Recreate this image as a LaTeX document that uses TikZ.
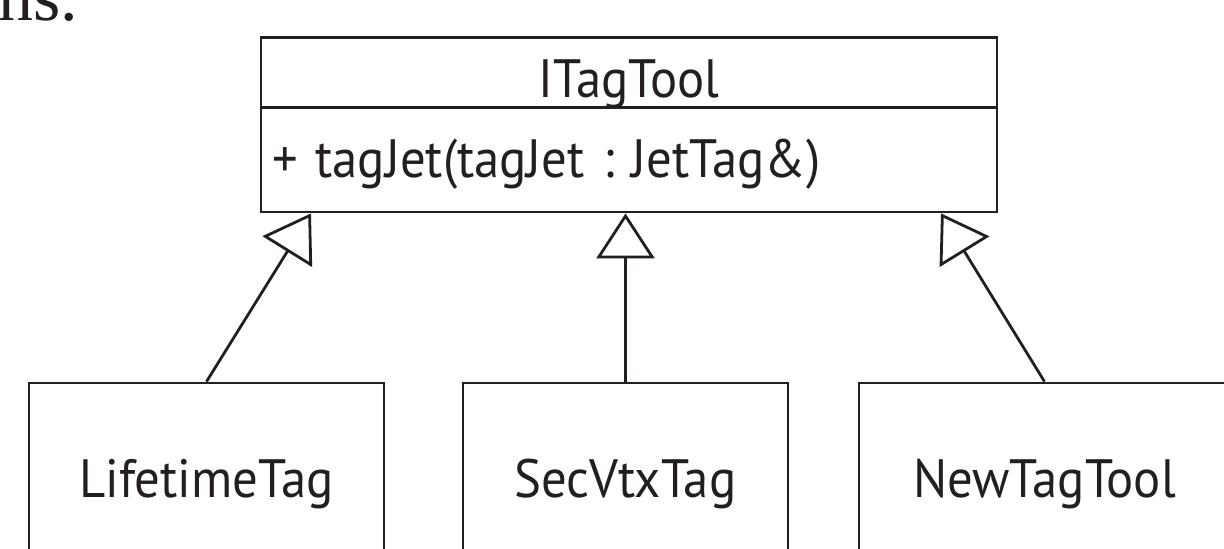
\documentclass[tikz,border=0pt]{standalone}
\usepackage{fontspec}
\usetikzlibrary{arrows.meta}
\newfontfamily\diagfont[FakeStretch=0.94]{PT Sans}
\newfontfamily\pagefont{Liberation Serif}
\definecolor{ink}{HTML}{231F20}
\begin{document}
\begin{tikzpicture}[x=1pt,y=-1pt,
  box/.style={draw=ink, line width=2.8pt, inner sep=0pt, text=ink, font=\diagfont\fontsize{54}{62}\selectfont},
  inherit/.style={draw=ink, line width=2.8pt, -{Triangle[open, length=45pt, width=58pt, line join=miter]}}]
\useasboundingbox (0,0) rectangle (1224,549);
\clip (0,0) rectangle (1224,549);
\node[anchor=base west, inner sep=0pt, text=ink, font=\pagefont\fontsize{70}{80}\selectfont] (pagetext) at (-2,20) {ns.};
\node[box, minimum width=736pt, minimum height=70pt, text height=49pt, text depth=0pt] (title) at (629,72.5) {ITagTool};
\node[box, minimum width=736pt, minimum height=105pt, text width=714pt, inner xsep=11pt, align=left, text height=35pt, text depth=0pt] (body) at (629,159.5) {+ tagJet(tagJet\hspace{19pt}:\hspace{17pt}JetTag\&)};
\node[box, minimum width=355pt, minimum height=194pt, text height=34pt, text depth=0pt] (lt) at (206.5,480) {LifetimeTag};
\node[box, minimum width=325pt, minimum height=194pt, text height=34pt, text depth=0pt] (sv) at (625.5,480) {SecVtxTag};
\node[box, minimum width=371pt, minimum height=194pt, text height=34pt, text depth=0pt] (nt) at (1044.5,480) {NewTagTool};
\coordinate (tipL) at ([xshift=-318pt]body.south);
\coordinate (tipM) at ([xshift=-3.5pt]body.south);
\coordinate (tipR) at ([xshift=312pt]body.south);
\draw[inherit] (lt.north) -- (tipL);
\draw[inherit] (sv.north) -- (tipM);
\draw[inherit] (nt.north) -- (tipR);
\end{tikzpicture}
\end{document}
